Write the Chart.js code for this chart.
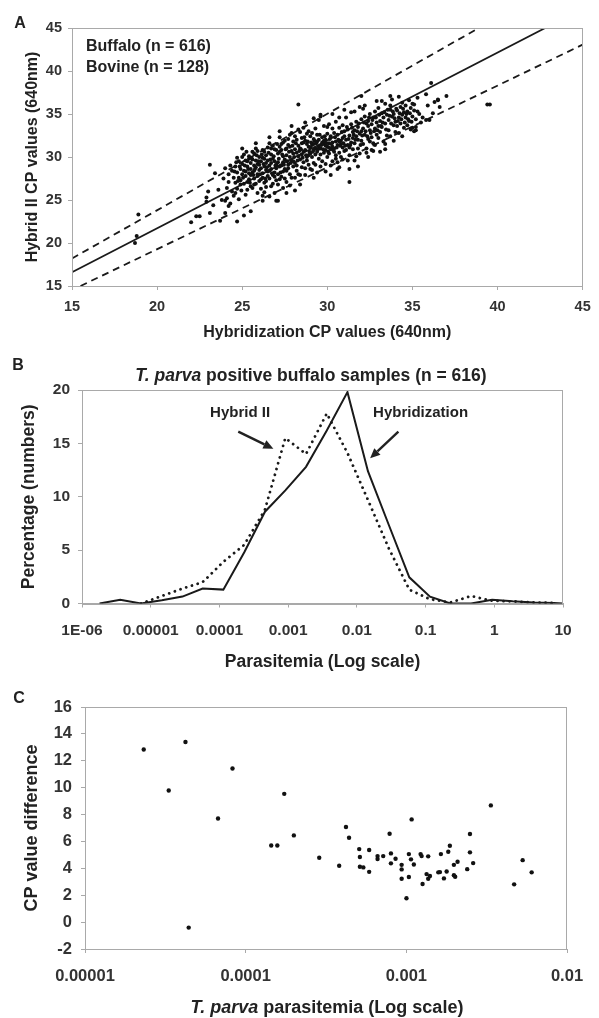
<!DOCTYPE html>
<html><head><meta charset="utf-8">
<script src="https://cdn.jsdelivr.net/npm/chart.js@4.4.1/dist/chart.umd.min.js"></script>
<style>
body{margin:0;background:#fff;width:599px;height:1018px;position:relative;overflow:hidden;font-family:'Liberation Sans',Arial,sans-serif;}
canvas{position:absolute;left:0;}
.t{position:absolute;font-weight:bold;color:#222;white-space:nowrap;transform:translate(-50%,-50%);line-height:1;}
</style></head><body>
<canvas id="cA" width="599" height="345" style="top:0;width:599px;height:345px"></canvas>
<canvas id="cB" width="599" height="340" style="top:340px;width:599px;height:340px"></canvas>
<canvas id="cC" width="599" height="338" style="top:680px;width:599px;height:338px"></canvas>
<div class="t" style="left:20px;top:23px;font-size:16px">A</div>
<div class="t" style="left:18px;top:365px;font-size:16px">B</div>
<div class="t" style="left:19px;top:698px;font-size:16px">C</div>
<div class="t" style="left:311px;top:376px;font-size:17.5px"><i>T. parva</i> positive buffalo samples (n = 616)</div>
<div class="t" style="left:327px;top:1007px;font-size:18px"><i>T. parva</i> parasitemia (Log scale)</div>
<script>
// ---------- Panel A data ----------
const aPoints = [
[18.7,20.0],[18.8,20.8],[18.9,23.3],[22.0,22.4],[22.3,23.1],[22.5,23.1],[22.9,24.8],[23.1,23.5],[23.0,26.0],[23.1,29.1],[23.4,28.1],[23.7,22.6],[24.7,22.5],[25.1,23.2],[25.5,23.7],[26.2,24.9],[26.6,25.4],[27.1,24.9],[28.1,26.1],[28.3,36.1],[29.6,34.9],[30.2,27.9],[30.7,28.8],[31.3,27.1],[31.3,28.6],[31.8,28.9],[32.0,37.1],[32.7,30.7],[33.4,30.9],[33.7,37.1],[36.1,38.6],[36.5,36.7],[37.0,37.1],[39.4,36.1],[39.55,36.1],[35.3,35.3],[35.1,36.1],[35.2,33.1],
[22.9,25.3],[23.3,24.4],[23.6,26.2],[23.8,25.0],[24.0,23.5],
[23.9,27.5],[24.0,28.7],[24.1,26.4],[24.1,25.2],[24.2,28.0],[24.2,27.1],[24.3,29.0],[24.3,24.6],[24.4,26.0],[24.4,28.4],[24.5,27.6],[24.5,25.5],[24.0,24.9],[24.2,24.3],
[24.6,28.9],[24.6,27.0],[24.7,28.2],[24.7,26.3],[24.8,29.5],[24.8,27.6],[24.9,28.6],[24.9,26.8],[24.6,25.8],[24.8,25.1],[25.0,28.0],[25.0,29.2],[24.7,29.9],[24.9,27.3],
[25.1,28.4],[25.1,26.9],[25.2,29.6],[25.2,27.8],[25.3,28.9],[25.3,26.2],[25.4,30.1],[25.4,27.4],[25.5,28.6],[25.5,29.3],[25.1,30.3],[25.2,25.6],[25.3,27.1],[25.4,28.1],[25.5,26.6],[25.0,30.0],[25.4,29.8],[25.2,28.3],[25.3,29.5],[25.5,27.9],
[25.6,28.2],[25.6,29.7],[25.7,27.5],[25.7,30.4],[25.8,28.8],[25.8,26.9],[25.9,29.2],[25.9,27.8],[26.0,28.5],[26.0,30.0],[25.6,26.4],[25.7,29.0],[25.8,31.0],[25.9,25.8],[26.0,27.2],[25.6,30.6],[25.7,28.4],[25.8,29.6],[25.9,28.0],[26.0,29.1],[25.7,26.8],[25.9,30.7],
[26.1,28.7],[26.1,27.4],[26.2,29.9],[26.2,28.1],[26.3,30.6],[26.3,27.0],[26.4,29.3],[26.4,28.5],[26.5,31.1],[26.5,27.8],[26.1,26.3],[26.2,30.8],[26.3,28.9],[26.4,26.5],[26.5,29.6],[26.1,29.5],[26.2,27.6],[26.3,29.8],[26.4,30.2],[26.5,28.3],[26.2,25.5],[26.4,27.2],
[26.6,29.0],[26.6,27.5],[26.7,30.3],[26.7,28.6],[26.8,31.3],[26.8,27.9],[26.9,29.5],[26.9,28.2],[27.0,30.8],[27.0,27.3],[26.6,31.6],[26.7,26.6],[26.8,29.8],[26.9,30.9],[27.0,29.1],[26.6,28.4],[26.7,29.3],[26.8,26.9],[26.9,27.7],[27.0,28.7],[26.7,31.0],[26.9,25.8],[27.0,24.9],
[27.1,29.4],[27.1,28.0],[27.2,30.6],[27.2,27.4],[27.3,31.5],[27.3,29.0],[27.4,28.3],[27.4,30.1],[27.5,31.9],[27.5,29.7],[27.1,26.8],[27.2,31.2],[27.3,27.7],[27.4,29.4],[27.5,28.6],[27.1,30.4],[27.2,28.9],[27.3,30.8],[27.4,26.4],[27.5,27.5],[27.2,32.3],[27.4,31.7],
[27.6,30.2],[27.6,28.4],[27.7,31.4],[27.7,29.1],[27.8,32.6],[27.8,28.0],[27.9,30.7],[27.9,29.6],[28.0,31.8],[28.0,28.9],[27.6,27.1],[27.7,32.1],[27.8,30.0],[27.9,27.6],[28.0,30.4],[27.6,31.0],[27.7,28.7],[27.8,31.2],[27.9,32.8],[28.0,29.5],[27.8,26.7],
[28.1,30.9],[28.1,29.3],[28.2,32.0],[28.2,28.4],[28.3,31.3],[28.3,30.1],[28.4,32.9],[28.4,29.7],[28.5,31.6],[28.5,28.8],[28.1,27.6],[28.2,30.5],[28.3,28.0],[28.4,31.0],[28.5,30.3],[28.1,32.4],[28.2,29.0],[28.3,33.2],[28.4,27.9],[28.5,32.2],
[28.6,30.6],[28.6,29.4],[28.7,31.9],[28.7,28.7],[28.8,32.7],[28.8,30.0],[28.9,31.2],[28.9,29.1],[29.0,32.4],[29.0,30.4],[28.6,33.4],[28.7,27.9],[28.8,31.5],[28.9,33.0],[29.0,28.6],[28.6,31.7],[28.7,30.8],[28.8,29.6],[28.9,30.2],[29.0,31.1],
[29.1,31.4],[29.1,30.0],[29.2,32.1],[29.2,29.3],[29.3,31.0],[29.3,33.3],[29.4,30.6],[29.4,32.6],[29.5,31.2],[29.5,29.8],[29.1,28.5],[29.2,30.8],[29.3,29.1],[29.4,31.8],[29.5,34.3],[29.1,32.8],[29.2,31.5],[29.3,30.3],[29.4,28.2],[29.5,32.0],
[29.6,31.0],[29.6,30.3],[29.7,32.3],[29.7,29.5],[29.8,31.5],[29.8,33.6],[29.9,30.8],[29.9,32.0],[30.0,31.2],[30.0,30.0],[29.6,34.7],[29.7,31.7],[29.8,30.5],[29.9,29.2],[30.0,32.7],[29.6,28.9],[29.8,31.9],[29.9,31.3],[30.0,33.5],
[30.1,31.6],[30.1,30.4],[30.2,32.4],[30.2,30.9],[30.3,31.2],[30.3,29.5],[30.4,32.8],[30.4,31.0],[30.5,31.8],[30.5,30.2],[30.1,33.8],[30.2,29.0],[30.3,33.3],[30.4,30.6],[30.5,34.1],[30.1,31.1],[30.3,31.7],[30.5,29.8],
[30.6,31.4],[30.6,32.6],[30.7,30.5],[30.7,33.4],[30.8,31.9],[30.8,30.0],[30.9,32.2],[30.9,31.1],[31.0,33.0],[31.0,30.7],[30.6,29.4],[30.7,34.6],[30.8,31.5],[30.9,29.7],[31.0,32.4],[30.7,31.8],[30.9,33.7],
[31.1,32.0],[31.1,30.8],[31.2,33.2],[31.2,31.4],[31.3,32.5],[31.3,30.2],[31.4,33.8],[31.4,31.7],[31.5,32.9],[31.5,30.9],[31.1,34.6],[31.2,29.6],[31.3,31.1],[31.4,35.2],[31.5,32.2],
[31.6,33.1],[31.6,31.6],[31.7,32.4],[31.7,34.1],[31.8,31.0],[31.8,33.5],[31.9,32.7],[31.9,30.4],[32.0,34.4],[32.0,31.9],[31.6,35.3],[31.7,30.1],[31.8,32.0],[31.9,35.8],[32.0,33.0],
[32.1,33.3],[32.1,31.5],[32.2,34.7],[32.2,32.6],[32.3,33.9],[32.3,31.0],[32.4,34.2],[32.4,32.1],[32.5,35.0],[32.5,33.1],[32.1,35.6],[32.3,30.5],[32.4,33.6],[32.5,31.8],
[32.6,33.8],[32.6,32.3],[32.7,34.6],[32.7,31.6],[32.8,33.3],[32.8,35.3],[32.9,34.0],[32.9,32.6],[33.0,33.6],[33.0,35.7],[32.6,30.8],[32.8,31.4],[33.0,32.2],
[33.1,34.2],[33.1,32.9],[33.2,35.1],[33.2,33.5],[33.3,34.6],[33.3,31.8],[33.4,33.9],[33.4,36.2],[33.5,34.9],[33.5,32.5],[33.2,36.5],[33.4,31.5],
[33.6,34.3],[33.6,33.1],[33.7,35.5],[33.7,32.4],[33.8,34.7],[33.8,36.7],[33.9,33.7],[33.9,35.0],[34.0,34.1],[34.0,32.9],[33.7,36.0],
[34.1,35.4],[34.1,33.6],[34.2,34.6],[34.2,32.8],[34.3,35.8],[34.3,33.9],[34.4,34.9],[34.4,36.3],[34.5,33.4],[34.5,35.2],
[34.6,34.6],[34.6,36.0],[34.7,33.7],[34.7,35.3],[34.8,34.2],[34.8,36.6],[34.9,33.2],[34.9,35.7],[35.0,34.7],[35.0,36.2],
[35.1,35.4],[35.2,34.4],[35.3,36.9],[35.4,35.0],[35.5,34.0],[35.6,34.6],[35.8,34.3],[35.9,36.0],[36.0,34.3],[36.2,35.1],[36.3,36.4],[36.5,36.6],[36.6,35.8],[35.2,33.5],[35.1,33.0],
[24.55,28.3],[24.65,29.4],[24.75,27.2],[24.85,28.9],[24.95,26.1],[25.05,27.6],[25.15,29.0],[25.25,30.6],[25.35,28.6],[25.45,27.0],[25.55,29.9],[25.65,27.9],[25.75,28.6],[25.85,30.2],[25.95,29.5],
[26.05,28.0],[26.15,30.3],[26.25,29.2],[26.35,27.5],[26.45,28.8],[26.55,30.5],[26.65,29.7],[26.75,28.1],[26.85,30.1],[26.95,29.0],[27.05,31.5],[27.15,29.8],[27.25,28.2],[27.35,30.3],[27.45,29.1],
[27.55,30.9],[27.65,29.5],[27.75,30.6],[27.85,29.3],[27.95,31.3],[28.05,30.0],[28.15,31.6],[28.25,29.6],[28.35,30.7],[28.45,30.9],[28.55,29.9],[28.65,32.3],[28.75,30.2],[28.85,31.8],[28.95,30.6],
[29.05,31.7],[29.15,30.6],[29.25,31.9],[29.35,31.6],[29.45,30.9],[29.55,32.6],[29.65,31.4],[29.75,30.9],[29.85,32.4],[29.95,31.6],[30.05,30.6],[30.15,32.1],[30.25,31.5],[30.35,30.8],[30.45,32.3],
[30.55,31.1],[30.65,32.0],[30.75,31.3],[30.85,32.9],[30.95,31.6],[31.05,31.3],[31.15,33.5],[31.25,32.1],[31.35,31.4],[31.45,33.4],[31.55,32.6],[31.65,32.0],[31.75,33.0],[31.85,33.9],[31.95,31.4],
[32.05,32.5],[32.15,34.0],[32.25,33.0],[32.35,32.4],[32.45,34.6],[32.55,32.8],[32.65,34.3],[32.75,33.0],[32.85,34.6],[32.95,33.1],[33.05,34.9],[33.15,33.6],[33.25,34.0],[33.35,35.2],[33.45,33.2],
[33.55,35.5],[33.65,34.8],[33.75,33.9],[33.85,35.3],[33.95,34.5],[34.05,35.6],[34.15,34.2],[34.25,35.1],[34.35,34.4],[34.45,35.6],[34.55,34.0],[34.65,35.0],[34.75,34.4],[34.85,35.1],[34.95,34.1],
[26.3,25.9],[27.6,25.8],[28.4,26.8],[29.2,27.6],[29.9,28.3],[30.6,28.6],[31.6,29.6],[32.4,30.0],[33.1,30.6],[33.9,31.9],[34.4,32.4],[35.0,33.4],
[25.0,31.0],[25.8,31.6],[26.6,32.3],[27.2,33.0],[27.9,33.6],[28.7,34.0],[29.2,34.5],[30.3,35.0],[31.0,35.5],[32.2,36.0],[32.9,36.5],[34.2,37.0],[35.8,37.3]
];
const aFitX = [15, 42.8];        const aFitY = [16.6, 45];
const aUpperX = [15, 38.9];      const aUpperY = [18.2, 45];
const aLowerX = [15.5, 45];      const aLowerY = [15, 43.06];
const aTicks = {min:15, max:45, step:5};
const aLegend = ['Buffalo (n = 616)', 'Bovine (n = 128)'];

// ---------- Panel B data ----------
const bX = [1.8e-6,3.6e-6,7.2e-6,1.45e-5,2.9e-5,5.7e-5,1.14e-4,2.3e-4,4.6e-4,9.1e-4,1.82e-3,3.65e-3,7.3e-3,1.45e-2,2.9e-2,5.8e-2,0.116,0.23,0.46,0.93,1.85,3.7,7.4,10];
const bHybridization = [0,0.35,0,0.3,0.65,1.4,1.3,4.8,8.6,10.6,12.8,16.2,19.8,12.4,7.4,2.45,0.64,0,0,0.35,0.2,0.1,0.05,0];
const bHybridII = [null,null,0,0.7,1.4,2.0,3.9,5.5,8.8,15.5,14.0,17.8,14.1,9.7,5.2,1.3,0.4,0.1,0.7,0.25,0.2,0.1,0.05,null];
const bTickValues = [1e-6,1e-5,1e-4,1e-3,1e-2,0.1,1,10];
const bTickLabels = ['1E-06','0.00001','0.0001','0.001','0.01','0.1','1','10'];

// ---------- Panel C data ----------
const cX = [2.32e-5,3.32e-5,4.22e-5,4.42e-5,6.73e-5,8.28e-5,1.442e-4,1.574e-4,1.738e-4,1.995e-4,
 2.87e-4,3.82e-4,4.21e-4,4.40e-4,5.09e-4,5.14e-4,5.14e-4,5.40e-4,5.87e-4,5.87e-4,6.62e-4,6.62e-4,7.18e-4,7.87e-4,8.02e-4,8.02e-4,8.57e-4,9.35e-4,9.35e-4,9.35e-4,
 1.037e-3,1.079e-3,1.069e-3,1.114e-3,1.037e-3,1.002e-3,1.227e-3,1.245e-3,1.368e-3,1.262e-3,1.337e-3,1.368e-3,1.403e-3,1.641e-3,1.581e-3,1.618e-3,1.714e-3,1.782e-3,1.824e-3,1.866e-3,
 1.977e-3,2.014e-3,1.977e-3,2.084e-3,2.393e-3,2.489e-3,2.489e-3,2.606e-3,3.357e-3,4.688e-3,5.297e-3,6.026e-3];
const cY = [12.84,9.79,13.4,-0.41,7.71,11.43,5.7,5.7,9.54,6.45,
 4.79,4.19,7.07,6.27,5.43,4.84,4.12,4.07,5.36,3.74,4.91,4.69,4.91,6.57,5.11,4.37,4.71,4.26,3.92,3.23,
 5.06,7.64,4.67,4.29,3.35,1.77,5.06,4.91,4.89,2.83,3.57,3.23,3.43,5.06,3.70,3.72,3.25,3.77,5.23,5.68,
 3.48,3.37,4.26,4.49,3.94,6.55,5.19,4.39,8.68,2.81,4.61,3.70];
const cTickValues = [1e-5,1e-4,1e-3,1e-2];
const cTickLabels = ['0.00001','0.0001','0.001','0.01'];

// ---------- helpers ----------
const FONT = "'Liberation Sans', Arial, sans-serif";
const AX = '#a9a9a9';
function axis(size, pad) {
  return {
    grid:{display:true, drawOnChartArea:false, drawTicks:true, tickLength:4, color:AX},
    border:{display:true, color:AX, width:1},
    ticks:{color:'#333', font:{family:FONT, size:size, weight:'bold'}, padding:pad, maxRotation:0, minRotation:0, autoSkip:false}
  };
}
function ttl(text, size, pad) {
  return {display:true, text:text, color:'#222', font:{family:FONT, size:size, weight:'bold'}, padding:pad};
}
function pts(xs, ys) {
  const out = [];
  xs.forEach((x,i) => { if (ys[i] !== null && ys[i] !== undefined) out.push({x:x, y:ys[i]}); });
  return out;
}
const framePlugin = {
  id:'frame',
  afterDraw(chart) {
    const {ctx, chartArea:a} = chart;
    ctx.save(); ctx.strokeStyle = AX; ctx.lineWidth = 1;
    ctx.strokeRect(Math.round(a.left)+0.5, Math.round(a.top)+0.5, Math.round(a.right-a.left)-1, Math.round(a.bottom-a.top));
    ctx.restore();
  }
};
function arrow(ctx, x1, y1, x2, y2) {
  const ang = Math.atan2(y2-y1, x2-x1), L = 10, W = 4.5;
  const bx = x2 - L*Math.cos(ang), by = y2 - L*Math.sin(ang);
  ctx.beginPath(); ctx.moveTo(x1,y1); ctx.lineTo(bx,by); ctx.stroke();
  ctx.beginPath(); ctx.moveTo(x2,y2);
  ctx.lineTo(bx + W*Math.sin(ang), by - W*Math.cos(ang));
  ctx.lineTo(bx - W*Math.sin(ang), by + W*Math.cos(ang));
  ctx.closePath(); ctx.fill();
}
const base = {responsive:false, animation:false, devicePixelRatio:1,
  plugins:{legend:{display:false}, tooltip:{enabled:false}, title:{display:false}}};

// ---------- Chart A ----------
new Chart(document.getElementById('cA'), {
  type:'scatter',
  data:{datasets:[
    {data:aPoints.map(p=>({x:p[0], y:p[1]})), pointRadius:2, pointBackgroundColor:'#111', pointBorderWidth:0, showLine:false},
    {data:pts(aFitX, aFitY), showLine:true, pointRadius:0, borderColor:'#1a1a1a', borderWidth:1.8},
    {data:pts(aUpperX, aUpperY), showLine:true, pointRadius:0, borderColor:'#1a1a1a', borderWidth:1.8, borderDash:[7,5]},
    {data:pts(aLowerX, aLowerY), showLine:true, pointRadius:0, borderColor:'#1a1a1a', borderWidth:1.8, borderDash:[7,5]}
  ]},
  options:Object.assign({}, base, {
    layout:{padding:{top:28, right:8, left:0, bottom:0}},
    scales:{
      x:Object.assign(axis(14.5, 8.3), {type:'linear', min:aTicks.min, max:aTicks.max,
        title:ttl('Hybridization CP values (640nm)', 16, {top:0, bottom:2.4}),
        afterFit:s=>{s.height = 59;}}),
      y:Object.assign(axis(14.5, 6), {type:'linear', min:aTicks.min, max:aTicks.max,
        title:ttl('Hybrid II CP values (640nm)', 16, {top:22.9, bottom:0}),
        afterFit:s=>{s.width = 72;}})
    }
  }),
  plugins:[framePlugin, {
    id:'legendTextA',
    afterDraw(chart) {
      const ctx = chart.ctx; ctx.save();
      ctx.font = 'bold 16px ' + FONT; ctx.fillStyle = '#222'; ctx.textBaseline = 'middle'; ctx.textAlign = 'left';
      ctx.fillText(aLegend[0], 86, 47);
      ctx.fillText(aLegend[1], 86, 68);
      ctx.restore();
    }
  }]
});
Chart.getChart('cA').options.scales.x.ticks.stepSize = aTicks.step;
Chart.getChart('cA').options.scales.y.ticks.stepSize = aTicks.step;
Chart.getChart('cA').update('none');

// ---------- Chart B ----------
const bAnn = {
  labels:[{text:'Hybrid II', x:2.0e-4, y:17.85}, {text:'Hybridization', x:8.45e-2, y:17.85}],
  arrows:[{x1:1.88e-4, y1:16.1, x2:6.1e-4, y2:14.5}, {x1:4.02e-2, y1:16.1, x2:1.56e-2, y2:13.6}]
};
new Chart(document.getElementById('cB'), {
  type:'scatter',
  data:{datasets:[
    {data:pts(bX, bHybridization), showLine:true, pointRadius:0, borderColor:'#1a1a1a', borderWidth:2, tension:0},
    {data:pts(bX, bHybridII), showLine:true, pointRadius:0, borderColor:'#1a1a1a', borderWidth:2.8, borderDash:[0.01,6], borderCapStyle:'round', tension:0}
  ]},
  options:Object.assign({}, base, {
    layout:{padding:{top:50, right:36, left:0, bottom:0}},
    scales:{
      x:Object.assign(axis(15.5, 14.2), {type:'logarithmic', min:1e-6, max:10,
        afterBuildTicks:s=>{s.ticks = bTickValues.map(v=>({value:v}));},
        title:ttl('Parasitemia (Log scale)', 17.5, {top:0, bottom:7.8}),
        afterFit:s=>{s.height = 76.5;}}),
      y:Object.assign(axis(15.5, 8), {type:'linear', min:0, max:20,
        title:ttl('Percentage (numbers)', 17.5, {top:18.2, bottom:0}),
        afterFit:s=>{s.width = 82;}})
    }
  }),
  plugins:[framePlugin, {
    id:'annB',
    afterDraw(chart) {
      const {ctx, scales:{x, y}} = chart; ctx.save();
      ctx.font = 'bold 15px ' + FONT; ctx.fillStyle = '#222'; ctx.textBaseline = 'middle'; ctx.textAlign = 'center';
      bAnn.labels.forEach(l => ctx.fillText(l.text, x.getPixelForValue(l.x), y.getPixelForValue(l.y)));
      ctx.strokeStyle = '#222'; ctx.lineWidth = 2.4;
      bAnn.arrows.forEach(a => arrow(ctx, x.getPixelForValue(a.x1), y.getPixelForValue(a.y1), x.getPixelForValue(a.x2), y.getPixelForValue(a.y2)));
      ctx.restore();
    }
  }]
});
const chB = Chart.getChart('cB');
chB.options.scales.x.ticks.callback = (v, i) => bTickLabels[i];
chB.options.scales.y.ticks.stepSize = 5;
chB.update('none');

// ---------- Chart C ----------
new Chart(document.getElementById('cC'), {
  type:'scatter',
  data:{datasets:[
    {data:pts(cX, cY), pointRadius:2.2, pointBackgroundColor:'#111', pointBorderWidth:0}
  ]},
  options:Object.assign({}, base, {
    layout:{padding:{top:27, right:32, left:0, bottom:0}},
    scales:{
      x:Object.assign(axis(16.5, 13.8), {type:'logarithmic', min:1e-5, max:1e-2,
        afterBuildTicks:s=>{s.ticks = cTickValues.map(v=>({value:v}));},
        afterFit:s=>{s.height = 69;}}),
      y:Object.assign(axis(16.5, 9), {type:'linear', min:-2, max:16,
        title:ttl('CP value difference', 18, {top:21.7, bottom:0}),
        afterFit:s=>{s.width = 85;}})
    }
  }),
  plugins:[framePlugin]
});
const chC = Chart.getChart('cC');
chC.options.scales.x.ticks.callback = (v, i) => cTickLabels[i];
chC.options.scales.y.ticks.stepSize = 2;
chC.update('none');
</script>
</body></html>
